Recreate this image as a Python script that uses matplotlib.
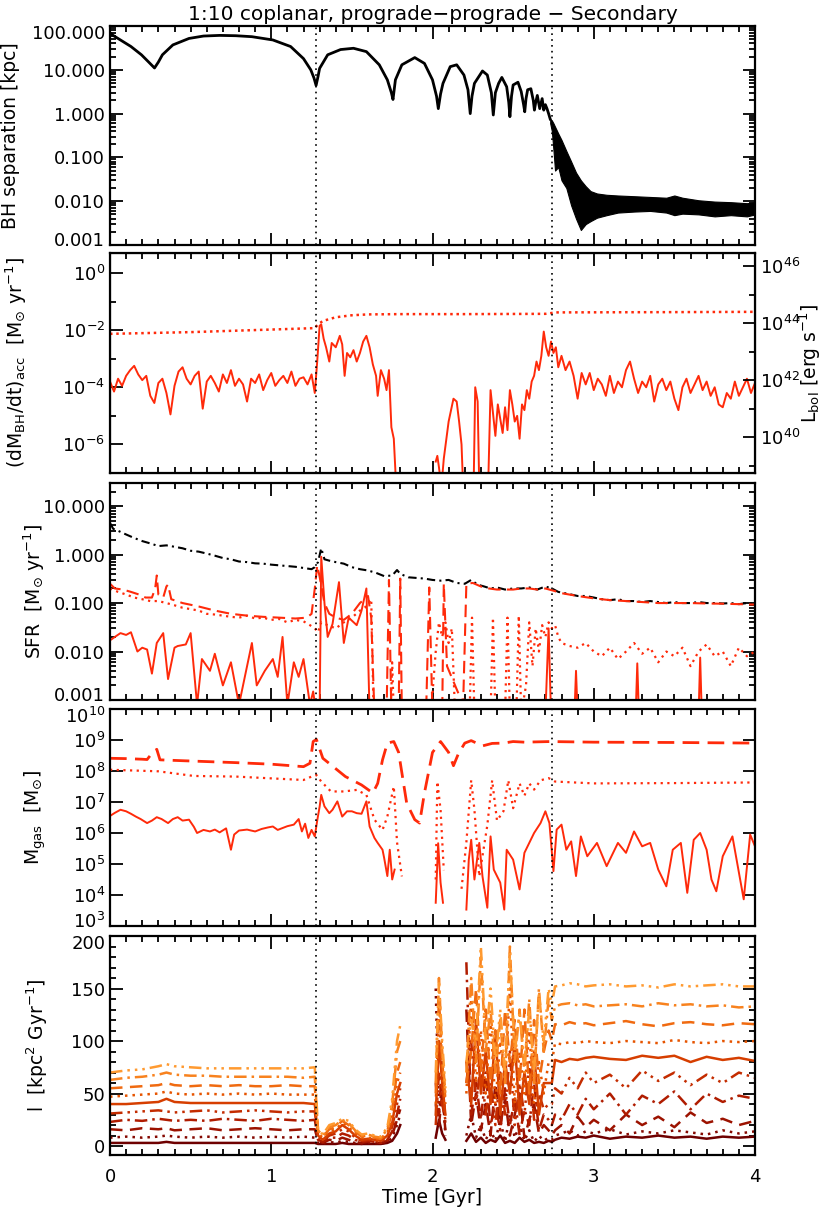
import numpy as np
import matplotlib
matplotlib.use("Agg")
import matplotlib.pyplot as plt
import matplotlib.transforms as mtransforms
from matplotlib.ticker import FixedLocator, MultipleLocator, FormatStrFormatter, NullLocator, LogLocator, NullFormatter

plt.rcParams['font.family'] = 'DejaVu Sans'
plt.rcParams['mathtext.default'] = 'regular'

nan = np.nan
t_merge = [1.28, 2.74]
SUN = '\u2299'

# ---- panel 1: BH separation [kpc]
sep_t = [0.0, 0.016, 0.13, 0.195, 0.24, 0.276, 0.30, 0.325, 0.39, 0.49, 0.58, 0.68, 0.78, 0.88,
         1.01, 1.12, 1.20, 1.245, 1.265, 1.278, 1.29, 1.30, 1.35, 1.43, 1.51, 1.59, 1.67, 1.72,
         1.745, 1.755, 1.77, 1.81, 1.89, 1.95, 2.0, 2.025, 2.036, 2.05, 2.065, 2.11, 2.15, 2.195,
         2.22, 2.234, 2.245, 2.26, 2.31, 2.34, 2.365, 2.377, 2.39, 2.41, 2.43, 2.46, 2.473, 2.48,
         2.49, 2.50, 2.53, 2.55, 2.565, 2.572, 2.58, 2.59, 2.61, 2.625, 2.632, 2.64, 2.65, 2.665,
         2.68, 2.69, 2.70, 2.71, 2.72, 2.73]
sep_kpc = [70, 62, 34, 22, 15, 11, 15, 22, 37, 52, 59, 61, 60, 57,
           48, 34, 18, 10, 6.5, 4.4, 7, 10.8, 22, 29, 31, 26, 13, 5.9,
           3, 2.1, 5.9, 13, 19, 14, 5.9, 2.5, 1.3, 2.8, 4.9, 11.8, 13, 7.6,
           3.5, 1.0, 2.5, 4.9, 9.4, 7.6, 3, 0.93, 3, 4.9, 6.7, 4.1, 1.8, 0.85,
           2.5, 4.5, 5.2, 3.2, 1.6, 1.1, 2.2, 3.5, 3.7, 2.0, 1.2, 1.8, 2.6, 1.3,
           2.2, 1.2, 1.6, 1.3, 1.0, 0.75]
band_t = [2.73, 2.74, 2.75, 2.76, 2.78, 2.80, 2.83, 2.86, 2.89, 2.92, 2.95, 2.98, 3.02, 3.08,
          3.15, 3.25, 3.35, 3.45, 3.5, 3.55, 3.65, 3.75, 3.85, 3.95, 4.0]
band_hi = [0.75, 0.7, 0.6, 0.5, 0.35, 0.25, 0.14, 0.08, 0.045, 0.03, 0.022, 0.017, 0.015, 0.014,
           0.0135, 0.013, 0.0125, 0.012, 0.0135, 0.012, 0.0105, 0.0098, 0.0095, 0.009, 0.0095]
band_lo = [0.6, 0.4, 0.15, 0.05, 0.06, 0.03, 0.02, 0.008, 0.004, 0.0022, 0.003, 0.0035, 0.0042, 0.0048,
           0.0055, 0.0058, 0.006, 0.0055, 0.0048, 0.0052, 0.005, 0.0045, 0.0048, 0.0045, 0.005]

# ---- panel 2: accretion rate (log10 Msun/yr)
mdot_t = [0.000, 0.025, 0.050, 0.075, 0.100, 0.125, 0.150, 0.175, 0.200, 0.225, 0.250, 0.275, 0.300,
          0.325, 0.350, 0.375, 0.400, 0.425, 0.450, 0.475, 0.500, 0.525, 0.550, 0.575, 0.600, 0.625,
          0.650, 0.675, 0.700, 0.725, 0.750, 0.775, 0.800, 0.825, 0.850, 0.875, 0.900, 0.925, 0.950,
          0.975, 1.000, 1.025, 1.050, 1.075, 1.100, 1.125, 1.150, 1.175, 1.200, 1.225, 1.250, 1.270,
          1.285, 1.300, 1.310, 1.325, 1.340, 1.360, 1.375, 1.400, 1.425, 1.440, 1.455, 1.470, 1.490,
          1.510, 1.530, 1.550, 1.570, 1.590, 1.610, 1.630, 1.650, 1.660, 1.680, 1.700, 1.715, 1.730,
          1.745, 1.760, 1.775, 1.900,
          2.020, 2.030, 2.040, 2.055, 2.070, 2.100, 2.130, 2.150, 2.165, 2.180, 2.190, 2.220,
          2.255, 2.265, 2.280, 2.290, 2.320,
          2.345, 2.360, 2.375, 2.390, 2.405, 2.420, 2.435, 2.450, 2.465, 2.480, 2.495, 2.510, 2.525,
          2.540, 2.555, 2.570, 2.585, 2.600, 2.615, 2.630, 2.645, 2.660, 2.675, 2.690, 2.705, 2.720,
          2.735, 2.750, 2.765, 2.780, 2.800, 2.825, 2.850, 2.875, 2.900, 2.925, 2.950, 2.975, 3.000,
          3.025, 3.050, 3.075, 3.100, 3.125, 3.150, 3.175, 3.200, 3.225, 3.250, 3.275, 3.300, 3.325,
          3.350, 3.375, 3.400, 3.425, 3.450, 3.475, 3.500, 3.525, 3.550, 3.575, 3.600, 3.625, 3.650,
          3.675, 3.700, 3.725, 3.750, 3.775, 3.800, 3.825, 3.850, 3.875, 3.900, 3.925, 3.950, 3.975, 4.000]
mdot_log = [-3.80, -4.15, -3.70, -3.95, -3.60, -3.40, -3.25, -3.55, -3.75, -3.60, -4.30, -4.55, -3.85,
            -3.70, -4.20, -4.95, -3.95, -3.45, -3.30, -3.70, -3.90, -3.60, -3.45, -4.75, -3.80, -3.60,
            -3.85, -4.15, -3.55, -3.85, -3.40, -3.95, -3.70, -3.90, -4.50, -3.70, -3.85, -3.55, -4.10,
            -3.75, -3.50, -3.95, -3.75, -3.60, -3.85, -3.45, -3.95, -3.70, -3.65, -3.90, -3.55, -4.20,
            -3.10, -1.85, -1.80, -2.30, -2.60, -3.10, -2.45, -2.60, -2.20, -2.50, -3.60, -2.80, -2.95,
            -2.70, -3.10, -2.80, -2.40, -2.20, -2.60, -3.20, -3.60, -4.30, -3.40, -3.70, -4.10, -3.40,
            -5.40, -5.80, -7.50, nan,
            -6.60, -6.40, -6.80, -7.50, -6.50, -5.20, -4.40, -4.50, -5.20, -6.00, -7.50, nan,
            -7.50, -4.00, -4.50, -7.50, nan,
            -7.50, -4.10, -4.90, -5.70, -4.60, -5.10, -5.60, -4.70, -5.50, -4.10, -4.60, -5.20, -5.00,
            -5.80, -4.60, -4.80, -4.10, -4.40, -3.80, -3.60, -3.10, -3.40, -2.90, -2.05, -2.60, -2.90,
            -2.40, -2.80, -2.60, -3.30, -2.90, -3.40, -3.10, -3.60, -4.40, -3.50, -3.90, -3.50, -4.10,
            -3.70, -3.90, -4.30, -3.60, -4.20, -3.80, -4.00, -3.40, -3.10, -3.70, -4.20, -3.80, -4.00,
            -3.60, -4.50, -3.90, -3.70, -4.10, -3.80, -4.40, -4.80, -4.00, -3.70, -4.20, -3.90, -3.60,
            -4.10, -3.80, -4.30, -4.00, -4.60, -4.70, -4.20, -4.40, -3.80, -4.30, -4.00, -3.70, -4.20, -3.85]
mdot2_t = [0.0, 0.5, 1.0, 1.27, 1.29, 1.32, 1.4, 1.5, 1.6, 1.8, 2.2, 2.7, 2.74, 2.76, 3.5, 4.0]
mdot2_log = [-2.13, -2.07, -1.98, -1.93, -1.80, -1.68, -1.55, -1.48, -1.45, -1.44, -1.44, -1.43,
             -1.40, -1.38, -1.37, -1.36]
lbol_per_mdot = 5.67e45   # erg/s per Msun/yr (10% efficiency)

# ---- panel 3: SFR [Msun/yr]
sfr_tot_t = [0.00, 0.02, 0.05, 0.10, 0.15, 0.20, 0.25, 0.30, 0.35, 0.40, 0.45, 0.50, 0.55, 0.60, 0.65,
             0.70, 0.75, 0.80, 0.85, 0.90, 0.95, 1.00, 1.05, 1.10, 1.15, 1.20, 1.25, 1.27, 1.29, 1.31,
             1.33, 1.36, 1.40, 1.45, 1.50, 1.55, 1.60, 1.65, 1.70, 1.75, 1.78, 1.80, 1.85, 1.90, 1.95,
             2.00, 2.05, 2.10, 2.15, 2.20, 2.24, 2.28, 2.32, 2.36, 2.40, 2.45, 2.50, 2.55, 2.60, 2.65,
             2.70, 2.74, 2.78, 2.82, 2.86, 2.90, 2.95, 3.00, 3.05, 3.10, 3.15, 3.20, 3.25, 3.30, 3.35,
             3.40, 3.45, 3.50, 3.55, 3.60, 3.65, 3.70, 3.75, 3.80, 3.85, 3.90, 3.95, 4.00]
sfr_tot = [4.5, 3.4, 3.1, 2.6, 2.2, 1.9, 1.7, 1.5, 1.55, 1.45, 1.35, 1.2, 1.15, 1.05, 0.95,
           0.85, 0.8, 0.72, 0.7, 0.66, 0.65, 0.62, 0.6, 0.58, 0.56, 0.53, 0.5, 0.55, 0.7, 1.35,
           0.8, 0.75, 0.7, 0.65, 0.55, 0.5, 0.47, 0.42, 0.36, 0.37, 0.48, 0.4, 0.34, 0.33, 0.32,
           0.3, 0.29, 0.3, 0.26, 0.25, 0.3, 0.24, 0.22, 0.2, 0.21, 0.19, 0.2, 0.2, 0.21, 0.19,
           0.22, 0.2, 0.17, 0.16, 0.15, 0.14, 0.14, 0.13, 0.12, 0.115, 0.12, 0.11, 0.11, 0.105, 0.11,
           0.105, 0.1, 0.105, 0.1, 0.1, 0.105, 0.1, 0.1, 0.098, 0.1, 0.095, 0.1, 0.095]
sfr_dash_t = [0.00, 0.03, 0.08, 0.13, 0.18, 0.22, 0.26, 0.28, 0.29, 0.30, 0.33, 0.35, 0.36, 0.38, 0.45,
              0.55, 0.65, 0.75, 0.85, 0.95, 1.05, 1.15, 1.22, 1.25, 1.27, 1.285, 1.30, 1.33, 1.36, 1.40,
              1.45, 1.50, 1.55, 1.60, 1.62, 1.64, 1.715, 1.73, 1.745, 1.79, 1.80, 1.81, 1.96, 1.98,
              2.00, 2.06, 2.07, 2.09, 2.19, 2.21, 2.25, 2.30, 2.35, 2.40, 2.45, 2.50, 2.55, 2.60, 2.65,
              2.70, 2.75, 2.80, 2.90, 3.00, 3.10, 3.20, 3.30, 3.40, 3.50, 3.60, 3.70, 3.80, 3.90, 4.00]
sfr_dash = [0.25, 0.2, 0.19, 0.17, 0.15, 0.13, 0.13, 0.2, 0.37, 0.15, 0.13, 0.22, 0.24, 0.12, 0.1,
            0.085, 0.07, 0.06, 0.055, 0.052, 0.05, 0.048, 0.05, 0.06, 0.2, 0.6, 0.35, 0.1, 0.06, 0.05,
            0.045, 0.06, 0.1, 0.14, 0.05, 0.0005, 0.0005, 0.3, 0.0005, 0.0005, 0.32, 0.0005, 0.0005, 0.21,
            0.0005, 0.0005, 0.25, 0.005, 0.0008, 0.25, 0.26, 0.22, 0.2, 0.19, 0.19, 0.19, 0.2, 0.2, 0.19,
            0.2, 0.18, 0.16, 0.14, 0.125, 0.115, 0.11, 0.105, 0.1, 0.1, 0.1, 0.098, 0.097, 0.095, 0.093]
sfr_dot_t = [0.00, 0.05, 0.10, 0.15, 0.20, 0.25, 0.30, 0.35, 0.40, 0.45, 0.50, 0.55, 0.60, 0.65, 0.70,
             0.75, 0.80, 0.85, 0.90, 0.95, 1.00, 1.05, 1.10, 1.15, 1.20, 1.24, 1.27, 1.29, 1.31, 1.35,
             1.40, 1.45, 1.50, 1.55, 1.58, 1.60, 1.62, 1.635, 1.74, 1.75, 1.76, 1.99, 2.02, 2.04, 2.06,
             2.08, 2.10, 2.12, 2.14, 2.23, 2.245, 2.26, 2.36, 2.375, 2.39, 2.45, 2.465, 2.48, 2.52, 2.535,
             2.55, 2.58, 2.60, 2.62, 2.64, 2.66, 2.68, 2.70, 2.72, 2.74, 2.76, 2.78, 2.80, 2.85, 2.90,
             2.95, 3.00, 3.05, 3.10, 3.15, 3.20, 3.25, 3.30, 3.35, 3.40, 3.45, 3.50, 3.55, 3.60, 3.65,
             3.70, 3.75, 3.80, 3.85, 3.90, 3.95, 4.00]
sfr_dot = [0.2, 0.17, 0.15, 0.13, 0.12, 0.11, 0.11, 0.1, 0.09, 0.08, 0.075, 0.07, 0.06, 0.058, 0.055,
           0.052, 0.05, 0.055, 0.048, 0.05, 0.045, 0.047, 0.04, 0.045, 0.042, 0.035, 0.03, 0.025, 0.04, 0.035,
           0.03, 0.04, 0.05, 0.07, 0.08, 0.1, 0.12, 0.0005, 0.0005, 0.006, 0.0005, 0.0005, 0.01, 0.04, 0.02,
           0.04, 0.015, 0.03, 0.0005, 0.0005, 0.05, 0.0005, 0.0005, 0.05, 0.0005, 0.0005, 0.05, 0.0005, 0.0005, 0.055,
           0.0005, 0.002, 0.04, 0.005, 0.03, 0.01, 0.035, 0.02, 0.04, 0.03, 0.035, 0.02, 0.015, 0.013, 0.012,
           0.015, 0.01, 0.008, 0.012, 0.007, 0.01, 0.015, 0.009, 0.012, 0.006, 0.01, 0.008, 0.012, 0.005, 0.01,
           0.014, 0.008, 0.01, 0.005, 0.012, 0.008, 0.01]
sfr_in_t = [0.00, 0.03, 0.065, 0.10, 0.13, 0.17, 0.20, 0.23, 0.26, 0.29, 0.33, 0.36, 0.40, 0.42, 0.47,
            0.50, 0.54, 0.57, 0.62, 0.65, 0.70, 0.75, 0.80, 0.85, 0.88, 0.91, 0.96, 1.01, 1.04, 1.07,
            1.10, 1.14, 1.17, 1.20, 1.24, 1.26, 1.28, 1.30, 1.31, 1.33, 1.35, 1.38, 1.42, 1.45, 1.48,
            1.53, 1.56, 1.59, 1.61, 2.0,
            2.70, 2.72, 2.735, 2.8, 2.88, 2.89, 2.90, 3.0, 3.26, 3.27, 3.28, 3.4, 3.65, 3.66, 3.67]
sfr_in = [0.017, 0.02, 0.024, 0.022, 0.025, 0.01, 0.012, 0.011, 0.0035, 0.015, 0.024, 0.0027, 0.012, 0.013, 0.014,
          0.024, 0.0008, 0.007, 0.004, 0.009, 0.002, 0.006, 0.0008, 0.005, 0.015, 0.002, 0.004, 0.007, 0.003, 0.02,
          0.0008, 0.006, 0.003, 0.007, 0.0008, 0.0015, 0.0005, 0.0005, 0.9, 0.1, 0.02, 0.037, 0.27, 0.015, 0.05,
          0.035, 0.07, 0.2, 0.0005, nan,
          0.0005, 0.03, 0.0005, nan, 0.0005, 0.004, 0.0005, nan, 0.0005, 0.0057, 0.0005, nan, 0.0005, 0.0075, 0.0005]

# ---- panel 4: gas mass (log10 Msun)
mg_dash_t = [0.00, 0.10, 0.20, 0.23, 0.26, 0.29, 0.31, 0.46, 0.78, 1.00, 1.20, 1.24, 1.26, 1.28, 1.32,
             1.37, 1.46, 1.56, 1.63, 1.66, 1.69, 1.72, 1.76, 1.79, 1.84, 1.89, 1.92, 1.95, 2.00, 2.05,
             2.10, 2.13, 2.16, 2.20, 2.24, 2.31, 2.37, 2.44, 2.50, 2.57, 2.73, 3.00, 3.50, 4.00]
mg_dash = [8.41, 8.40, 8.38, 8.37, 8.57, 8.70, 8.36, 8.33, 8.27, 8.22, 8.14, 8.25, 8.95, 9.02, 8.41,
           8.20, 7.82, 7.55, 7.29, 7.60, 8.36, 8.90, 8.95, 8.60, 6.96, 6.43, 6.32, 7.29, 8.60, 8.95,
           8.60, 8.17, 8.55, 8.90, 8.98, 8.81, 8.89, 8.90, 8.95, 8.93, 8.95, 8.93, 8.92, 8.90]
mg_dot_t = [0.00, 0.30, 0.52, 0.78, 1.20, 1.25, 1.28, 1.31, 1.37, 1.45, 1.53, 1.59, 1.64, 1.69, 1.72,
            1.76, 1.78, 1.81, 1.95, 2.02, 2.03, 2.05, 2.07, 2.12, 2.18, 2.21, 2.24, 2.26, 2.29, 2.34,
            2.37, 2.40, 2.44, 2.47, 2.50, 2.54, 2.57, 2.60, 2.63, 2.67, 2.72, 2.76, 3.00, 3.50, 4.00]
mg_dot = [8.04, 7.99, 7.84, 7.82, 7.71, 7.82, 7.87, 7.66, 7.34, 7.34, 7.39, 7.23, 6.43, 6.10, 6.53,
          7.50, 5.70, 4.60, nan, 4.50, 7.66, 6.75, 4.80, nan, 4.20, 5.70, 7.70, 6.75, 4.60, 6.25,
          7.70, 6.40, 6.70, 7.70, 6.80, 7.60, 7.20, 7.60, 7.40, 7.70, 7.77, 7.66, 7.60, 7.61, 7.63]
mg_in_t = [0.00, 0.03, 0.065, 0.10, 0.13, 0.16, 0.19, 0.23, 0.26, 0.29, 0.32, 0.36, 0.39, 0.42, 0.45,
           0.49, 0.52, 0.54, 0.58, 0.62, 0.65, 0.68, 0.72, 0.75, 0.77, 0.80, 0.85, 0.90, 0.94, 0.98,
           1.01, 1.04, 1.07, 1.10, 1.14, 1.17, 1.19, 1.21, 1.23, 1.25, 1.27, 1.285, 1.30, 1.31, 1.33,
           1.36, 1.38, 1.41, 1.44, 1.47, 1.50, 1.53, 1.56, 1.59, 1.61, 1.64, 1.66, 1.69, 1.70, 1.72,
           1.735, 1.75, 1.765, 1.9, 2.02, 2.035, 2.05, 2.065, 2.15, 2.21, 2.225, 2.24, 2.26, 2.29, 2.31,
           2.34, 2.36, 2.38, 2.42, 2.445, 2.46, 2.50, 2.54, 2.57, 2.60, 2.63, 2.67, 2.70, 2.725, 2.75,
           2.77, 2.80, 2.83, 2.86, 2.89, 2.92, 2.96, 3.02, 3.08, 3.15, 3.20, 3.25, 3.30, 3.35, 3.40,
           3.45, 3.49, 3.54, 3.58, 3.62, 3.66, 3.70, 3.73, 3.76, 3.80, 3.86, 3.93, 3.97, 4.00]
mg_in = [6.55, 6.65, 6.75, 6.70, 6.62, 6.53, 6.45, 6.32, 6.40, 6.51, 6.45, 6.32, 6.45, 6.51, 6.40,
         6.43, 6.20, 6.00, 6.10, 6.05, 6.11, 6.02, 6.15, 5.46, 5.95, 6.08, 6.11, 6.05, 6.13, 6.18,
         6.21, 6.10, 6.16, 6.22, 6.27, 6.45, 6.05, 6.30, 5.84, 6.10, 5.89, 6.40, 6.85, 7.23, 6.86,
         6.64, 6.75, 7.02, 6.53, 6.70, 6.70, 6.64, 6.62, 7.02, 6.21, 5.84, 5.68, 5.46, 5.20, 4.61,
         5.46, 4.50, 4.82, nan, 3.75, 5.67, 4.40, 3.75, nan, 3.53, 5.14, 5.78, 4.50, 5.68, 4.60,
         3.59, 5.89, 4.82, 4.40, 3.53, 5.46, 5.14, 4.18, 5.36, 5.68, 6.00, 6.32, 6.70, 6.32, 4.77,
         6.11, 6.27, 5.46, 5.73, 4.61, 5.89, 5.25, 5.68, 4.93, 5.68, 5.36, 6.05, 5.57, 5.68, 4.82,
         4.28, 5.46, 5.68, 4.07, 5.78, 6.00, 5.46, 4.50, 4.12, 5.25, 5.89, 3.86, 5.95, 5.57]

# ---- panel 5: specific angular momentum of 10 radial bins [kpc^2/Gyr]
l_t_pre = [0.0, 0.1, 0.2, 0.3, 0.35, 0.4, 0.5, 0.6, 0.7, 0.8, 0.9, 1.0, 1.1, 1.2, 1.27]
l_t_mid = [1.29, 1.32, 1.36, 1.40, 1.44, 1.48, 1.52, 1.56, 1.60, 1.64, 1.68, 1.72, 1.75, 1.78, 1.80,
           1.90, 2.02, 2.04, 2.06, 2.08, 2.14, 2.21, 2.24, 2.27, 2.30, 2.33, 2.36, 2.39, 2.42, 2.45,
           2.48, 2.51, 2.54, 2.57, 2.60, 2.63, 2.66, 2.69, 2.72]
l_t_post = [2.74, 2.76, 2.8, 2.85, 2.9, 2.95, 3.0, 3.1, 3.2, 3.3, 3.4, 3.5, 3.6, 3.7, 3.8, 3.9, 4.0]
l_pre = [
    [3, 3, 3, 3, 4, 3, 3, 3, 3, 3, 3, 3, 3, 3, 3],
    [8, 9, 8, 9, 10, 9, 8, 9, 8, 9, 8, 9, 8, 9, 8],
    [16, 15, 17, 16, 17, 15, 16, 17, 15, 16, 17, 16, 15, 16, 16],
    [23, 25, 24, 26, 25, 24, 25, 24, 26, 25, 24, 26, 25, 24, 25],
    [31, 32, 33, 34, 33, 32, 33, 34, 32, 33, 34, 33, 32, 33, 33],
    [40, 40, 41, 42, 45, 42, 41, 41, 41, 41, 41, 41, 41, 41, 40],
    [47, 48, 49, 50, 52, 50, 49, 50, 49, 50, 49, 50, 49, 49, 49],
    [55, 56, 57, 58, 60, 58, 57, 58, 57, 58, 57, 57, 58, 57, 57],
    [63, 65, 66, 68, 70, 68, 67, 67, 66, 66, 66, 66, 66, 65, 66],
    [70, 72, 73, 76, 78, 76, 75, 74, 74, 74, 74, 74, 74, 74, 75],
]
l_mid = [
    [2, 2, 2, 2, 3, 2, 2, 2, 2, 2, 2, 3, 5, 12, 20, nan, 8, 25, 12, 6, nan, 5, 12, 4, 8, 3, 6, 4, 10, 3, 5, 3, 8, 4, 6, 3, 4, 3, 5],
    [3, 2, 4, 3, 5, 4, 3, 2, 3, 3, 2, 4, 8, 20, 30, nan, 150, 30, 60, 10, nan, 10, 30, 8, 20, 6, 15, 5, 25, 4, 30, 8, 20, 5, 15, 4, 10, 5, 8],
    [5, 3, 6, 5, 8, 6, 4, 3, 4, 3, 3, 5, 10, 25, 35, nan, 40, 20, 50, 15, nan, 130, 20, 50, 15, 40, 10, 60, 20, 45, 10, 30, 50, 8, 25, 40, 12, 20, 15],
    [6, 4, 8, 8, 12, 10, 6, 4, 5, 4, 3, 6, 14, 30, 45, nan, 60, 30, 80, 20, nan, 175, 30, 60, 25, 70, 20, 40, 15, 55, 20, 45, 10, 35, 20, 60, 15, 30, 25],
    [8, 5, 10, 12, 16, 14, 8, 5, 6, 5, 4, 8, 18, 40, 55, nan, 20, 70, 40, 25, nan, 60, 100, 40, 80, 30, 60, 20, 70, 30, 90, 20, 60, 30, 80, 25, 50, 35, 40],
    [10, 6, 12, 14, 20, 16, 10, 6, 7, 6, 5, 10, 22, 50, 60, nan, 30, 100, 60, 30, nan, 80, 40, 120, 50, 90, 40, 110, 30, 80, 50, 100, 30, 70, 40, 90, 30, 60, 60],
    [12, 8, 14, 16, 22, 18, 12, 8, 8, 7, 6, 12, 28, 60, 70, nan, 40, 130, 70, 40, nan, 50, 140, 60, 110, 50, 120, 40, 100, 60, 150, 40, 90, 50, 110, 40, 80, 50, 80],
    [14, 9, 16, 18, 24, 20, 14, 9, 10, 8, 7, 14, 35, 70, 80, nan, 50, 140, 80, 45, nan, 60, 90, 150, 70, 130, 60, 110, 50, 130, 80, 120, 60, 130, 50, 120, 60, 90, 110],
    [15, 10, 18, 20, 25, 22, 15, 10, 11, 9, 8, 16, 40, 90, 100, nan, 60, 160, 90, 50, nan, 70, 160, 80, 180, 90, 130, 70, 120, 60, 190, 80, 130, 70, 140, 60, 150, 90, 140],
    [16, 11, 20, 22, 26, 24, 16, 11, 12, 10, 9, 18, 45, 100, 115, nan, 70, 155, 100, 55, nan, 80, 120, 100, 190, 100, 150, 80, 130, 70, 185, 90, 125, 80, 130, 70, 145, 100, 150],
]
l_post = [
    [4, 6, 8, 7, 9, 8, 10, 7, 9, 8, 10, 8, 9, 7, 9, 8, 9],
    [6, 10, 12, 15, 10, 14, 12, 16, 11, 14, 12, 15, 13, 11, 15, 12, 14],
    [10, 15, 20, 12, 28, 18, 25, 15, 30, 20, 28, 18, 32, 22, 26, 20, 24],
    [20, 30, 25, 40, 30, 45, 35, 50, 30, 48, 40, 52, 35, 50, 42, 48, 45],
    [40, 55, 50, 65, 55, 70, 60, 68, 55, 72, 62, 70, 58, 68, 60, 70, 65],
    [60, 82, 80, 83, 82, 84, 85, 83, 82, 86, 84, 86, 80, 85, 82, 84, 81],
    [80, 98, 97, 99, 98, 100, 99, 98, 100, 99, 98, 101, 99, 98, 100, 99, 100],
    [100, 116, 115, 118, 116, 117, 115, 117, 119, 116, 114, 117, 118, 116, 115, 117, 116],
    [120, 133, 135, 136, 134, 135, 133, 134, 135, 133, 136, 134, 135, 133, 134, 132, 133],
    [135, 152, 153, 155, 154, 152, 153, 154, 152, 153, 151, 154, 152, 153, 154, 152, 152],
]

# ---- styles
red = '#ff2a0a'
l_colors = ['#6e0000', '#850800', '#9c1200', '#b01c00', '#c42c00',
            '#d63e00', '#e65400', '#f06a10', '#f8821e', '#ff9a30']
styles = ['-', (0, (1, 2)), (0, (5, 3)), (0, (5, 2, 1, 2)), (0, (5, 2, 1, 2, 1, 2, 1, 2))]
tick_fs = 13
lab_fs = 13.5

fig = plt.figure(figsize=(8.23, 12.09), dpi=100)
W, H = 823.0, 1209.0
boxes = [(26, 245), (253, 473), (483, 700), (709, 926), (936, 1155)]
axs = [fig.add_axes([110 / W, 1 - b / H, 645 / W, (b - t) / H]) for t, b in boxes]


def style_ax(ax, right=True):
    ax.set_xlim(0, 4)
    ax.xaxis.set_major_locator(MultipleLocator(1))
    ax.xaxis.set_minor_locator(MultipleLocator(0.1))
    ax.tick_params(which='both', direction='in', top=True, right=right, labelsize=tick_fs, width=1.3)
    ax.tick_params(which='major', length=9)
    ax.tick_params(which='minor', length=4.5)
    for s in ax.spines.values():
        s.set_linewidth(1.6)
    for tm in t_merge:
        ax.axvline(tm, color='k', ls=(0, (1, 2.5)), lw=1.2)


# panel 1
ax = axs[0]
ax.plot(sep_t, sep_kpc, color='k', lw=2)
ax.fill_between(band_t, band_lo, band_hi, color='k', lw=0.8)
ax.set_yscale('log')
ax.set_ylim(0.001, 100)
ax.yaxis.set_major_formatter(FormatStrFormatter('%.3f'))
ax.yaxis.set_minor_formatter(NullFormatter())
ax.set_ylabel('BH separation [kpc]', fontsize=lab_fs)
ax.yaxis.set_label_coords(-0.139, 0.5)
ax.set_title('1:10 coplanar, prograde\u2212prograde \u2212 Secondary', fontsize=14.5, pad=4)
style_ax(ax)

# panel 2
ax = axs[1]
ax.plot(mdot_t, 10 ** np.array(mdot_log), color=red, lw=1.4)
ax.plot(mdot2_t, 10 ** np.array(mdot2_log), color=red, lw=1.8, ls=(0, (1, 1.5)))
ax.set_yscale('log')
ylo, yhi = 1e-7, 5.0
ax.set_ylim(ylo, yhi)
ax.yaxis.set_major_locator(FixedLocator([1e-6, 1e-4, 1e-2, 1e0]))
ax.yaxis.set_minor_locator(FixedLocator([1e-7, 1e-5, 1e-3, 1e-1]))
ax.yaxis.set_minor_formatter(NullFormatter())
ax.set_ylabel('(dM$_{BH}$/dt)$_{acc}$  [M$_' + SUN + '$ yr$^{-1}$]', fontsize=lab_fs)
ax.yaxis.set_label_coords(-0.126, 0.5)
style_ax(ax, right=False)
ax2 = ax.twinx()
ax2.set_yscale('log')
ax2.set_ylim(ylo * lbol_per_mdot, yhi * lbol_per_mdot)
ax2.yaxis.set_major_locator(FixedLocator([1e40, 1e42, 1e44, 1e46]))
ax2.yaxis.set_minor_locator(FixedLocator([1e39, 1e41, 1e43, 1e45]))
ax2.yaxis.set_minor_formatter(NullFormatter())
ax2.tick_params(which='both', direction='in', labelsize=tick_fs, width=1.3)
ax2.tick_params(which='major', length=9)
ax2.tick_params(which='minor', length=4.5)
ax2.set_ylabel(r'L$_{bol}$ [erg s$^{-1}$]', fontsize=lab_fs)
ax2.yaxis.set_label_coords(1.066, 0.5)

# panel 3
ax = axs[2]
ax.plot(sfr_tot_t, sfr_tot, color='k', lw=1.5, ls=(0, (4, 2, 1, 2)))
ax.plot(sfr_dash_t, sfr_dash, color=red, lw=1.5, ls=(0, (6, 3)))
ax.plot(sfr_dot_t, sfr_dot, color=red, lw=1.6, ls=(0, (1, 2)))
ax.plot(sfr_in_t, sfr_in, color=red, lw=1.4)
ax.set_yscale('log')
ax.set_ylim(0.001, 30)
ax.yaxis.set_major_formatter(FormatStrFormatter('%.3f'))
ax.yaxis.set_minor_formatter(NullFormatter())
ax.set_ylabel('SFR  [M$_' + SUN + '$ yr$^{-1}$]', fontsize=lab_fs)
ax.yaxis.set_label_coords(-0.098, 0.5)
style_ax(ax)

# panel 4
ax = axs[3]
ax.plot(mg_dash_t, 10 ** np.array(mg_dash), color=red, lw=2, ls=(0, (6, 3)))
ax.plot(mg_dot_t, 10 ** np.array(mg_dot), color=red, lw=1.6, ls=(0, (1, 2)))
ax.plot(mg_in_t, 10 ** np.array(mg_in), color=red, lw=1.4)
ax.set_yscale('log')
ax.set_ylim(1e3, 1e10)
ax.yaxis.set_major_locator(LogLocator(base=10, numticks=10))
ax.yaxis.set_minor_locator(NullLocator())
ax.set_ylabel('M$_{gas}$  [M$_' + SUN + '$]', fontsize=lab_fs)
ax.yaxis.set_label_coords(-0.096, 0.5)
style_ax(ax)

# panel 5
ax = axs[4]
for i in range(10):
    tt = l_t_pre + l_t_mid + l_t_post
    vv = l_pre[i] + l_mid[i] + l_post[i]
    ax.plot(tt, vv, color=l_colors[i], lw=1.8, ls=styles[i % 5])
ax.set_ylim(-8.5, 200)
ax.yaxis.set_major_locator(MultipleLocator(50))
ax.yaxis.set_minor_locator(MultipleLocator(10))
ax.set_ylabel(r'l  [kpc$^2$ Gyr$^{-1}$]', fontsize=lab_fs)
ax.yaxis.set_label_coords(-0.093, 0.5)
ax.set_xlabel('Time [Gyr]', fontsize=lab_fs, labelpad=2)
style_ax(ax)
ax.tick_params(axis='x', pad=9)

for ax in axs[:4]:
    ax.tick_params(labelbottom=False)

# nudge the labels at the very top / bottom of a panel inwards a little
fig.canvas.draw()
shift = 6 / 72.0
for ax in axs:
    lo, hi = ax.get_ylim()
    for tk in ax.yaxis.get_major_ticks():
        loc = tk.get_loc()
        if np.isclose(loc, lo, rtol=1e-6):
            dy = shift
        elif np.isclose(loc, hi, rtol=1e-6):
            dy = -shift
        else:
            continue
        off = mtransforms.ScaledTranslation(0, dy * 72 / fig.dpi, fig.dpi_scale_trans)
        tk.label1.set_transform(tk.label1.get_transform() + off)

fig.savefig('out.png', dpi=100)
